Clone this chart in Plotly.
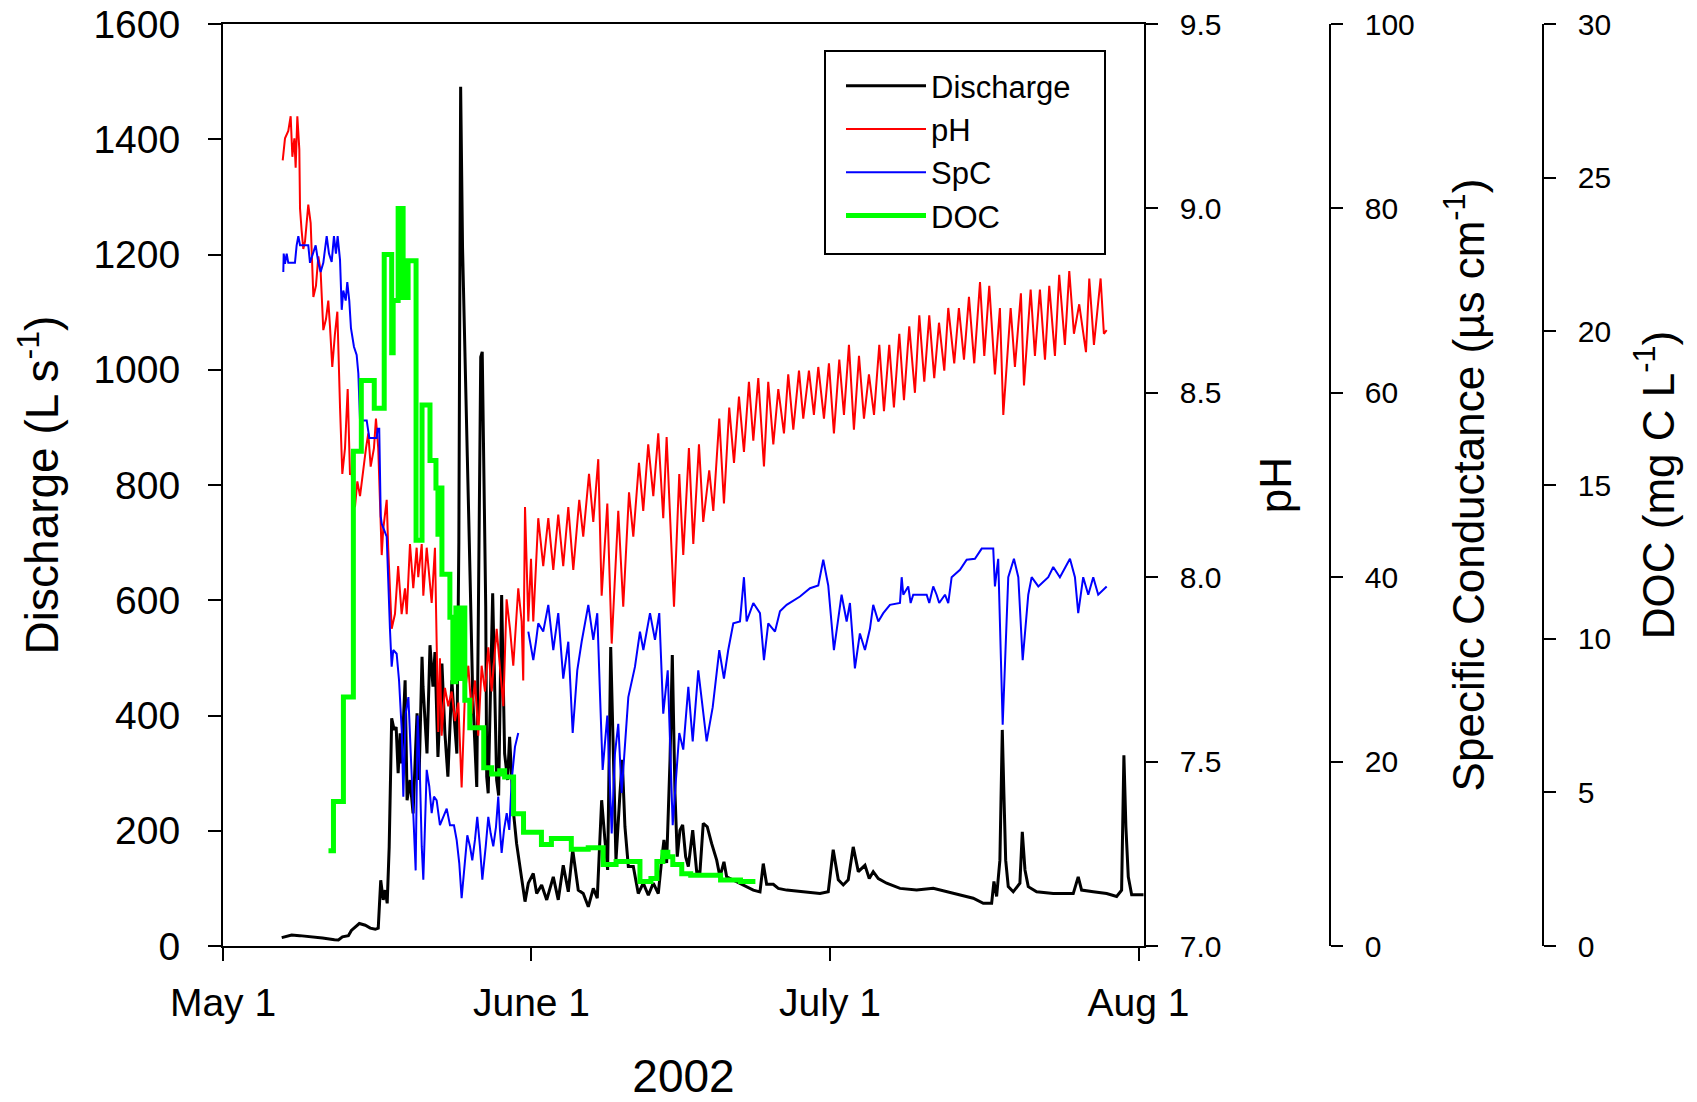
import pandas as pd
import plotly.graph_objects as go

START = pd.Timestamp("2002-05-01")

# ---------------- data (days after May 1, 2002) ----------------
discharge_day = [5.9, 6.9, 7.7, 9.0, 10.0, 11.2, 11.6, 12.0, 12.6, 12.9,
                 13.7, 14.3, 14.8, 15.3, 15.6, 15.85, 16.1, 16.3, 16.5, 16.7,
                 16.95, 17.2, 17.4, 17.6, 17.8, 17.95, 18.3, 18.5, 18.8, 19.1,
                 19.5, 19.7, 20.0, 20.1, 20.5, 20.8, 21.1, 21.3, 21.6, 22.0,
                 22.3, 22.6, 23.0, 23.2, 23.5, 23.7, 23.88, 24.07, 24.2, 24.35,
                 24.55, 24.7, 24.9, 25.1, 25.5, 25.75, 25.9, 26.05, 26.15, 26.25,
                 26.4, 26.5, 26.65, 27.1, 27.5, 27.7, 28.0, 28.3, 28.6, 28.8,
                 29.2, 29.5, 30.0, 30.35, 30.68, 31.18, 31.52, 32.02, 32.53, 33.19,
                 33.69, 34.19, 34.7, 35.14, 35.7, 36.2, 36.71, 37.21, 37.61, 38.05,
                 38.38, 38.65, 38.96, 39.22, 39.49, 39.89, 40.12, 40.39, 40.73, 41.23,
                 41.73, 42.23, 42.74, 43.24, 43.74, 44.08, 44.31, 44.58, 44.92, 45.15,
                 45.42, 45.65, 45.92, 46.19, 46.49, 46.76, 47.2, 47.6, 47.93, 48.26,
                 48.66, 49.1, 49.61, 49.94, 50.34, 50.61, 51.95, 53.29, 53.96, 54.29,
                 54.63, 55.3, 55.8, 56.64, 58.31, 59.99, 60.82, 61.32, 61.83, 62.33,
                 62.83, 63.33, 63.84, 64.51, 64.94, 65.34, 65.85, 66.69, 68.03, 69.7,
                 71.37, 72.72, 74.06, 75.39, 76.4, 77.24, 77.47, 77.74, 78.07, 78.31,
                 78.47, 78.65, 78.91, 79.41, 80.08, 80.32, 80.59, 80.92, 81.76, 83.43,
                 84.78, 85.44, 85.94, 86.28, 87.45, 88.8, 89.8, 90.3, 90.53, 90.73,
                 90.97, 91.31, 92.5]
discharge_val = [14.5, 19, 18, 16, 14, 11, 10.5, 16, 18, 27,
                 39, 36, 31, 29, 31, 114, 80, 97, 74, 172,
                 395, 375, 380, 300, 369, 317, 461, 253, 288, 230,
                 404, 288, 502, 450, 334, 522, 450, 510, 328, 490,
                 369, 294, 461, 404, 334, 700, 1491, 1213, 1126, 982,
                 850, 739, 560, 432, 276, 739, 1022, 1031, 924, 739,
                 589, 294, 265, 612, 288, 261, 609, 334, 288, 363,
                 230, 178, 114, 77, 109, 126, 91, 106, 80, 120,
                 80, 140, 94, 167, 97, 91, 68, 100, 83, 253,
                 184, 132, 519, 323, 149, 265, 323, 207, 138, 138,
                 91, 109, 88, 109, 91, 149, 184, 144, 323, 505,
                 265, 155, 201, 210, 155, 138, 201, 129, 129, 213,
                 207, 178, 149, 120, 146, 120, 109, 97, 94, 143,
                 107, 107, 100, 97, 94, 91, 94, 167, 115, 106,
                 115, 172, 129, 140, 117, 129, 117, 109, 100, 97,
                 100, 94, 89, 83, 74, 74, 112, 86, 149, 375,
                 265, 149, 103, 94, 109, 198, 132, 103, 94, 91,
                 91, 91, 120, 97, 94, 91, 86, 97, 331, 207,
                 120, 89, 89]

ph_day = [6.0, 6.23, 6.56, 6.8, 6.97, 7.17, 7.3, 7.47, 7.67, 7.74,
          7.9, 8.07, 8.24, 8.57, 8.81, 9.08, 9.34, 9.58, 9.81, 10.08,
          10.35, 10.58, 10.75, 10.98, 11.25, 11.49, 11.76, 11.99, 12.26, 12.53,
          12.76, 12.93, 13.26, 13.5, 13.77, 14.1, 14.37, 14.6, 14.84, 15.17,
          15.37, 15.6, 15.95, 16.1, 16.45, 16.6, 16.95, 17.28, 17.6, 17.95,
          18.29, 18.46, 18.79, 19.12, 19.46, 19.62, 19.97, 20.13, 20.47, 20.97,
          21.3, 21.63, 21.8, 21.97, 22.3, 22.64, 22.98, 23.31, 23.65, 23.98,
          24.32, 24.65, 24.99, 25.32, 25.65, 25.99, 26.33, 26.66, 27.0, 27.5,
          27.83, 28.17, 28.5, 28.84, 29.17, 29.67, 30.01, 30.17, 30.35, 30.68,
          30.95, 31.18, 31.68, 32.18, 32.69, 33.19, 33.69, 34.19, 34.7, 35.2,
          35.8, 36.2, 36.78, 37.21, 37.71, 38.05, 38.62, 39.06, 39.72, 40.22,
          40.8, 41.23, 41.8, 42.23, 42.73, 43.24, 43.74, 44.24, 44.58, 45.32,
          45.85, 46.25, 46.82, 47.26, 47.83, 48.26, 48.86, 49.27, 49.87, 50.34,
          50.87, 51.35, 51.85, 52.35, 52.85, 53.29, 53.79, 54.36, 54.79, 55.3,
          55.8, 56.37, 56.8, 57.31, 57.88, 58.31, 58.88, 59.38, 59.82, 60.39,
          60.89, 61.39, 61.93, 62.4, 62.9, 63.4, 63.91, 64.41, 64.91, 65.42,
          65.95, 66.42, 66.95, 67.42, 67.96, 68.43, 68.96, 69.53, 69.97, 70.47,
          70.97, 71.47, 71.95, 72.48, 72.88, 73.48, 73.95, 74.46, 74.96, 75.49,
          76.07, 76.5, 77.0, 77.57, 78.07, 78.41, 79.15, 79.58, 80.18, 80.49,
          81.16, 81.59, 82.09, 82.6, 83.03, 83.6, 84.03, 84.6, 85.04, 85.51,
          86.04, 86.72, 87.05, 87.52, 88.19, 88.52, 88.8]
ph_val = [9.13, 9.19, 9.21, 9.25, 9.14, 9.19, 9.11, 9.25, 9.16, 9.00,
          8.94, 8.89, 8.91, 9.01, 8.96, 8.76, 8.79, 8.87, 8.83, 8.67,
          8.70, 8.75, 8.68, 8.57, 8.66, 8.72, 8.46, 8.28, 8.35, 8.51,
          8.28, 8.28, 8.19, 8.26, 8.22, 8.30, 8.35, 8.39, 8.30, 8.35,
          8.43, 8.35, 8.06, 8.13, 8.21, 8.08, 7.86, 7.90, 8.03, 7.90,
          7.97, 7.90, 8.09, 7.97, 8.08, 8.00, 8.09, 7.95, 8.08, 7.93,
          8.08, 7.58, 7.78, 7.57, 7.70, 7.65, 7.69, 7.61, 7.66, 7.43,
          7.69, 7.76, 7.63, 7.72, 7.57, 7.76, 7.69, 7.81, 7.69, 7.86,
          7.76, 7.65, 7.94, 7.86, 7.76, 7.97, 7.88, 7.72, 8.19, 7.88,
          8.05, 7.88, 8.16, 8.03, 8.16, 8.02, 8.17, 8.03, 8.19, 8.02,
          8.21, 8.11, 8.28, 8.15, 8.32, 7.95, 8.20, 7.82, 8.18, 7.92,
          8.23, 8.11, 8.31, 8.18, 8.36, 8.22, 8.39, 8.16, 8.38, 7.92,
          8.28, 8.06, 8.35, 8.09, 8.36, 8.15, 8.29, 8.18, 8.43, 8.20,
          8.46, 8.31, 8.49, 8.34, 8.53, 8.37, 8.54, 8.30, 8.53, 8.36,
          8.51, 8.39, 8.55, 8.40, 8.56, 8.43, 8.56, 8.44, 8.57, 8.43,
          8.58, 8.39, 8.59, 8.44, 8.63, 8.40, 8.60, 8.43, 8.55, 8.44,
          8.63, 8.45, 8.63, 8.46, 8.66, 8.48, 8.68, 8.50, 8.71, 8.53,
          8.71, 8.54, 8.69, 8.56, 8.73, 8.58, 8.73, 8.59, 8.76, 8.58,
          8.80, 8.60, 8.79, 8.55, 8.73, 8.44, 8.73, 8.57, 8.77, 8.52,
          8.78, 8.60, 8.78, 8.59, 8.79, 8.60, 8.82, 8.63, 8.83, 8.66,
          8.74, 8.61, 8.81, 8.63, 8.81, 8.66, 8.67]

spc_day = [6.06, 6.1, 6.23, 6.4, 6.56, 7.23, 7.4, 7.57, 7.74, 8.57,
           8.74, 9.08, 9.31, 9.58, 9.81, 10.08, 10.42, 10.65, 10.92, 11.15,
           11.35, 11.52, 11.76, 11.93, 12.09, 12.33, 12.49, 12.69, 12.86, 13.16,
           13.43, 13.6, 13.77, 14.44, 14.7, 15.44, 15.54, 15.7, 15.85, 15.95,
           16.18, 16.45, 16.78, 16.95, 17.11, 17.45, 17.69, 17.96, 18.12, 18.36,
           18.63, 18.86, 19.12, 19.36, 19.56, 19.8, 19.97, 20.13, 20.47, 20.73,
           20.97, 21.2, 21.47, 21.8, 22.14, 22.48, 22.81, 23.21, 23.48, 23.74,
           23.98, 24.32, 24.55, 24.82, 25.05, 25.32, 25.55, 25.82, 26.06, 26.4,
           26.66, 26.9, 27.16, 27.43, 27.66, 27.83, 28.0, 28.24, 28.51, 28.77,
           29.01, 29.34, 29.67, 30.2,
           30.68, 30.85, 31.18, 31.45, 31.68, 32.18, 32.69, 33.19, 33.69, 34.19,
           34.7, 35.14, 35.6, 36.04, 36.37, 36.71, 37.21, 37.61, 37.88, 38.15,
           38.62, 39.06, 39.39, 39.72, 40.06, 40.39, 40.73, 41.4, 41.9, 42.24,
           42.91, 43.41, 43.84, 44.24, 44.69, 45.19, 45.59, 45.85, 46.25, 46.76,
           47.2, 47.76, 48.6, 49.21, 49.87, 50.34, 50.77, 51.28, 51.95, 52.35,
           52.62, 53.29, 53.96, 54.36, 54.79, 55.47, 55.97, 56.64, 57.98, 58.99,
           59.82, 60.32, 60.82, 61.39, 62.16, 62.67, 63.0, 63.5, 64.0, 64.51,
           65.01, 65.34, 65.85, 66.35, 67.02, 68.03, 68.2, 68.36, 68.86, 69.1,
           69.36, 70.71, 70.97, 71.37, 71.71, 71.97, 72.55, 72.88, 73.22, 74.06,
           74.73, 75.56, 76.24, 77.4, 77.57, 77.9, 78.35, 78.91, 79.48, 79.92,
           80.36, 80.92, 81.26, 81.93, 82.93, 83.43, 84.1, 85.11, 85.61, 85.94,
           86.44, 86.95, 87.45, 87.95, 88.8]
spc_val = [73.1, 75.1, 74.0, 75.1, 74.1, 74.1, 76.0, 77.0, 76.0, 76.0,
           74.1, 75.1, 76.0, 74.1, 73.1, 74.1, 77.0, 75.1, 74.2, 77.0,
           75.1, 77.0, 74.4, 69.0, 71.1, 70.0, 72.0, 70.0, 67.0, 65.0,
           64.1, 62.1, 57.0, 57.0, 55.1, 55.1, 56.1, 56.1, 46.6, 45.8,
           45.1, 44.4, 34.3, 30.3, 32.1, 31.7, 28.8, 23.4, 16.2, 25.2,
           27.0, 21.6, 14.4, 8.2, 25.0, 18.0, 10.8, 7.2, 19.1, 17.3,
           14.4, 16.2, 15.8, 13.1, 14.0, 14.9, 13.1, 13.1, 11.5, 9.0,
           5.2, 9.7, 12.0, 10.8, 9.3, 11.5, 14.0, 10.8, 7.2, 10.8,
           14.0, 12.2, 10.8, 12.9, 16.2, 12.6, 10.1, 12.6, 14.4, 12.6,
           18.0, 21.6, 23.1, None,
           34.1, 33.0, 31.0, 33.0, 35.0, 34.1, 37.0, 32.1, 36.1, 29.0,
           33.0, 23.1, 29.9, 33.0, 35.0, 37.0, 33.2, 36.1, 27.4, 19.1,
           25.0, 12.2, 20.9, 24.1, 16.6, 21.6, 27.0, 30.3, 34.1, 32.1,
           36.1, 33.2, 36.1, 25.2, 29.9, 13.1, 19.8, 23.1, 21.3, 28.1,
           22.2, 29.9, 22.2, 25.9, 32.1, 29.0, 32.1, 35.0, 35.2, 40.0,
           35.2, 37.2, 36.1, 31.0, 35.0, 34.1, 36.3, 37.0, 37.9, 38.8,
           39.1, 41.9, 39.1, 32.1, 38.1, 35.2, 37.2, 30.1, 33.9, 32.1,
           34.4, 37.0, 35.2, 36.1, 37.0, 37.2, 40.0, 38.1, 39.0, 37.2,
           38.1, 38.1, 37.2, 39.0, 38.1, 37.2, 38.1, 37.2, 40.0, 40.8,
           41.9, 42.0, 43.1, 43.1, 39.0, 42.0, 24.0, 40.0, 42.0, 40.0,
           31.0, 38.1, 40.0, 39.0, 40.0, 41.1, 40.0, 42.0, 40.0, 36.1,
           40.0, 38.1, 40.0, 38.1, 39.0]

doc_day = [10.6, 11.1, 12.1, 13.1, 13.9, 15.2, 16.2, 16.95, 17.1, 17.6,
           18.1, 18.6, 19.4, 20.0, 20.8, 21.4, 21.6, 21.8, 22.0, 22.8,
           23.1, 23.4, 23.7, 24.0, 24.3, 24.8, 26.2, 27.0, 27.8, 28.3,
           29.2, 30.2, 32.0, 33.0, 35.0, 36.7, 38.2, 39.5, 41.9, 43.0,
           43.6, 44.2, 44.7, 45.2, 46.1, 47.0, 48.5, 50.0, 52.0, 53.5]
doc_val = [3.1, 4.7, 8.1, 16.1, 18.4, 17.5, 22.5, 19.3, 21.0, 24.0,
           21.1, 22.3, 13.2, 17.6, 15.8, 14.9, 13.4, 14.9, 12.1, 10.7,
           8.6, 11.0, 8.7, 11.0, 8.0, 7.1, 5.8, 5.6, 5.7, 5.5,
           4.3, 3.7, 3.3, 3.5, 3.15, 3.2, 2.65, 2.75, 2.1, 2.2,
           2.75, 3.05, 2.9, 2.65, 2.35, 2.3, 2.3, 2.15, 2.1, 2.1]

month_ticks = ["2002-05-01", "2002-06-01", "2002-07-01", "2002-08-01"]
month_labels = ["May 1", "June 1", "July 1", "Aug 1"]


def to_dates(days):
    return [START + pd.Timedelta(days=d) for d in days]


FONT = "Liberation Sans, Arial, sans-serif"
W, H = 1697, 1102
ML, MR, MT, MB = 223, 100, 24, 156
PW = W - ML - MR            # plotting width in px
PH = H - MT - MB
X_END = (1144 - ML) / PW    # main plot right edge (paper)
SPC_POS = (1330 - ML) / PW
DOC_POS = (1543 - ML) / PW

fig = go.Figure()
fig.add_trace(go.Scatter(x=to_dates(discharge_day), y=discharge_val, name="Discharge",
                         mode="lines", line=dict(color="black", width=3), yaxis="y"))
fig.add_trace(go.Scatter(x=to_dates(ph_day), y=ph_val, name="pH",
                         mode="lines", line=dict(color="#ff0000", width=2), yaxis="y2"))
fig.add_trace(go.Scatter(x=to_dates(spc_day), y=spc_val, name="SpC",
                         mode="lines", line=dict(color="#0000ff", width=2), yaxis="y3",
                         connectgaps=False))
fig.add_trace(go.Scatter(x=to_dates(doc_day), y=doc_val, name="DOC",
                         mode="lines", line=dict(color="#00ff00", width=5, shape="hv"),
                         yaxis="y4"))

axis_common = dict(showgrid=False, zeroline=False, showline=True, linecolor="black",
                   ticks="outside", tickcolor="black", automargin=False)

fig.update_layout(
    width=W, height=H,
    margin=dict(l=ML, r=MR, t=MT, b=MB),
    paper_bgcolor="white", plot_bgcolor="white",
    font=dict(family=FONT, color="black"),
    showlegend=True,
    legend=dict(x=(841 - ML) / PW, y=1 - (59 - MT) / PH, xanchor="left", yanchor="top",
                bgcolor="rgba(0,0,0,0)", borderwidth=0,
                font=dict(family=FONT, size=31, color="black"),
                itemwidth=80, tracegroupgap=0),
    xaxis=dict(axis_common, domain=[0, X_END], type="date",
               range=[START, START + pd.Timedelta(days=92.55)],
               tickvals=month_ticks, ticktext=month_labels,
               ticklen=13, tickwidth=2, linewidth=2, mirror=True,
               tickfont=dict(size=39), ticklabelstandoff=8,
               title=dict(text="2002", font=dict(size=46), standoff=40)),
    yaxis=dict(axis_common, range=[0, 1600], dtick=200, ticklen=13, tickwidth=2, linewidth=2,
               tickfont=dict(size=39), ticklabelstandoff=20,
               title=dict(text="Discharge (L s<sup>-1</sup>)", font=dict(size=46), standoff=20)),
    yaxis2=dict(axis_common, overlaying="y", side="right", anchor="x", range=[7, 9.5],
                dtick=0.5, tickformat=".1f", ticklen=12, tickwidth=1.5, linewidth=1.5,
                tickfont=dict(size=30), ticklabelstandoff=16,
                title=dict(text="pH", font=dict(size=44), standoff=40)),
    yaxis3=dict(axis_common, overlaying="y", side="right", anchor="free", position=SPC_POS,
                range=[0, 100], dtick=20, ticklen=12, tickwidth=1.5, linewidth=1.5,
                tickfont=dict(size=30), ticklabelstandoff=16,
                title=dict(text="Specific Conductance (\u00b5s cm<sup>-1</sup>)",
                           font=dict(size=44), standoff=38)),
    yaxis4=dict(axis_common, overlaying="y", side="right", anchor="free", position=DOC_POS,
                range=[0, 30], dtick=5, ticklen=12, tickwidth=1.5, linewidth=1.5,
                tickfont=dict(size=30), ticklabelstandoff=16,
                title=dict(text="DOC (mg C L<sup>-1</sup>)", font=dict(size=44), standoff=32)),
    shapes=[dict(type="rect", xref="paper", yref="paper",
                 x0=(825 - ML) / PW, x1=(1105 - ML) / PW,
                 y0=1 - (254 - MT) / PH, y1=1 - (51 - MT) / PH,
                 line=dict(color="black", width=2), fillcolor="rgba(0,0,0,0)")],
)

fig.write_html("out.html")
